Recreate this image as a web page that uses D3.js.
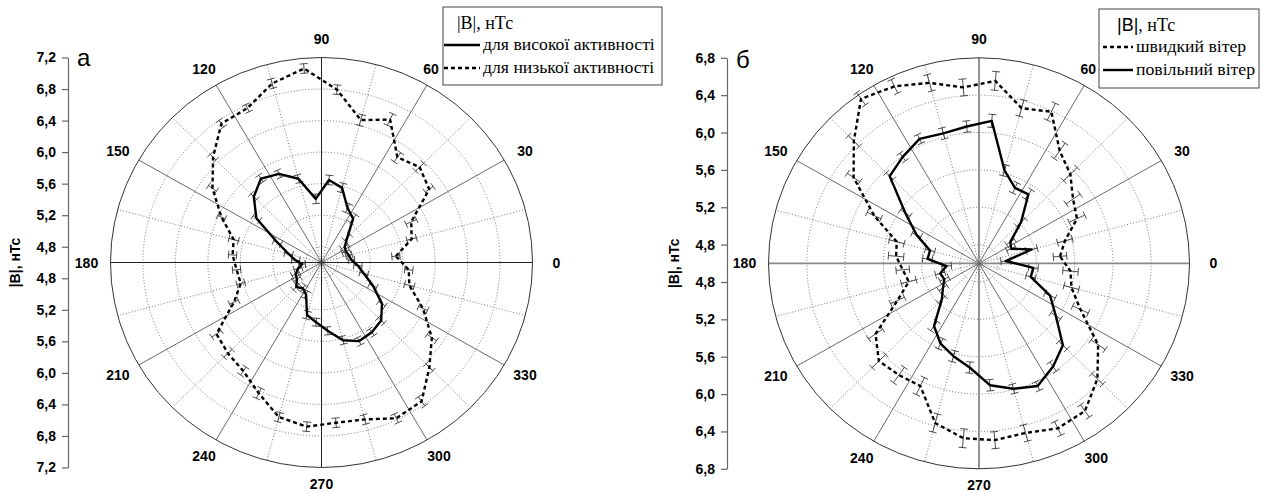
<!DOCTYPE html>
<html><head><meta charset="utf-8">
<script src="https://cdn.jsdelivr.net/npm/d3@7"></script>
<style>body{margin:0;background:#fff}svg{display:block}.serif{font-family:"Liberation Serif","Times New Roman",serif}.sans{font-family:"Liberation Sans",Arial,sans-serif}</style>
</head><body>
<svg id="c" width="1263" height="493"></svg>
<script>
// angles of data points (degrees)
const angles = [5,15,25,35,45,55,65,75,85,95,105,115,125,135,145,155,165,175,185,195,205,215,225,235,245,255,265,275,285,295,305,315,325,335,345,355];
// panel а: high / low activity
const highAct = [4.97,4.95,4.93,4.95,5.05,5.28,5.36,5.58,5.65,5.41,5.70,5.84,5.90,5.78,5.58,5.20,5.02,4.92,4.84,4.90,4.95,4.97,5.04,5.00,5.05,5.29,5.36,5.47,5.62,5.70,5.68,5.64,5.51,5.30,5.14,5.05];
const highErr = [0.04,0.04,0.05,0.05,0.05,0.06,0.06,0.06,0.06,0.06,0.05,0.05,0.05,0.05,0.05,0.05,0.05,0.05,0.04,0.05,0.05,0.05,0.05,0.05,0.05,0.05,0.05,0.05,0.05,0.05,0.05,0.05,0.05,0.05,0.05,0.05];
const lowAct = [5.52,5.75,5.82,6.22,6.31,6.23,6.60,6.47,6.80,7.07,6.95,6.76,6.75,6.49,6.24,5.96,5.72,5.70,5.65,5.63,5.79,6.18,6.23,6.28,6.43,6.63,6.69,6.64,6.66,6.78,6.75,6.48,6.26,5.98,5.72,5.68];
const lowErr = [0.05,0.06,0.07,0.06,0.07,0.07,0.08,0.07,0.06,0.06,0.06,0.05,0.05,0.05,0.06,0.05,0.06,0.05,0.05,0.05,0.06,0.07,0.07,0.06,0.07,0.06,0.06,0.06,0.06,0.06,0.07,0.06,0.07,0.06,0.06,0.05];
// panel б: fast / slow wind
const fastWind = [5.45,5.53,5.73,5.80,5.95,6.07,6.39,6.32,6.56,6.49,6.60,6.69,6.75,6.45,6.20,5.81,5.49,5.47,5.40,5.36,5.54,5.92,6.08,6.06,6.05,6.37,6.48,6.50,6.48,6.55,6.53,6.35,6.12,5.77,5.60,5.56];
const fastErr = [0.07,0.08,0.09,0.09,0.10,0.10,0.10,0.09,0.10,0.09,0.09,0.08,0.08,0.08,0.08,0.08,0.08,0.08,0.07,0.08,0.08,0.09,0.10,0.10,0.10,0.10,0.10,0.09,0.09,0.08,0.08,0.08,0.09,0.09,0.08,0.08];
const slowWind = [4.88,5.17,4.97,5.00,5.22,5.50,5.49,5.63,6.13,6.07,6.04,6.07,5.99,5.92,5.54,5.32,5.13,5.14,4.94,5.02,5.00,5.06,5.15,5.42,5.55,5.63,5.72,5.91,5.99,6.05,5.95,5.84,5.58,5.42,5.16,5.17];
const slowErr = [0.05,0.06,0.05,0.05,0.06,0.06,0.06,0.06,0.07,0.06,0.06,0.05,0.05,0.05,0.06,0.05,0.05,0.05,0.05,0.05,0.05,0.05,0.05,0.06,0.06,0.06,0.06,0.06,0.05,0.05,0.06,0.06,0.06,0.06,0.05,0.05];
// tick labels
const angleLabels = [0,30,60,90,120,150,180,210,240,270,300,330];
const ticksA = [4.8,5.2,5.6,6.0,6.4,6.8,7.2];
const ticksB = [4.8,5.2,5.6,6.0,6.4,6.8];
const minorA = [4.8,5.0,5.2,5.4,5.6,5.8,6.0,6.2,6.4,6.6,6.8,7.0,7.2];
const minorB = [4.8,5.0,5.2,5.4,5.6,5.8,6.0,6.2,6.4,6.6,6.8];

const svg = d3.select("#c");
const fmt = v => d3.format(".1f")(v).replace(".", ",");

function panel(o) {
  const g = svg.append("g");
  const rad = d3.scaleLinear().domain(o.domain).range([0, o.ry]);
  const kx = o.rx / o.ry;
  const px = (v, a) => o.cx + kx * rad(v) * Math.cos(a * Math.PI / 180);
  const py = (v, a) => o.cy - rad(v) * Math.sin(a * Math.PI / 180);
  const vmax = o.domain[1];

  // dotted grid circles
  g.selectAll("ellipse.grid").data(o.ticks.filter(t => t < vmax)).join("ellipse")
    .attr("cx", o.cx).attr("cy", o.cy)
    .attr("rx", d => kx * rad(d)).attr("ry", d => rad(d))
    .attr("fill", "none").attr("stroke", "#555").attr("stroke-width", 0.8)
    .attr("stroke-dasharray", "1,2");
  // dotted radial lines every 15 deg offset
  const dotted = d3.range(15, 360, 30);
  g.selectAll("line.dr").data(dotted).join("line")
    .attr("x1", o.cx).attr("y1", o.cy)
    .attr("x2", d => px(vmax, d)).attr("y2", d => py(vmax, d))
    .attr("stroke", "#555").attr("stroke-width", 0.8).attr("stroke-dasharray", "1,2");
  // solid radial lines every 30
  g.selectAll("line.sr").data(angleLabels).join("line")
    .attr("x1", o.cx).attr("y1", o.cy)
    .attr("x2", d => px(vmax, d)).attr("y2", d => py(vmax, d))
    .attr("stroke", d => d % 90 === 0 ? o.axisColor : "#444")
    .attr("stroke-width", d => d % 90 === 0 ? o.axisWidth : 0.8);
  // outer circle
  g.append("ellipse").attr("cx", o.cx).attr("cy", o.cy)
    .attr("rx", kx * rad(vmax)).attr("ry", rad(vmax))
    .attr("fill", "none").attr("stroke", "#333").attr("stroke-width", 1);

  // angle labels
  g.selectAll("text.al").data(angleLabels).join("text").attr("class", "sans")
    .attr("x", d => o.cx + (kx * rad(vmax) + 24) * Math.cos(d * Math.PI / 180) + (d === 60 ? -8 : 0))
    .attr("y", d => o.cy - (rad(vmax) + (d === 270 ? 16 : 19)) * Math.sin(d * Math.PI / 180) + 5)
    .attr("text-anchor", "middle")
    .attr("font-weight", "bold").attr("font-size", 14).text(d => d);

  // series
  const line = d3.line()
    .x((d, i) => px(d, angles[i])).y((d, i) => py(d, angles[i]))
    .curve(d3.curveLinearClosed);
  o.series.forEach(s => {
    const eg = g.append("g");
    s.values.forEach((v, i) => {
      const a = angles[i], e = s.err[i];
      const rr = a * Math.PI / 180;
      const tx = -Math.sin(rr) * 4, ty = -Math.cos(rr) * 4;
      eg.append("line").attr("x1", px(v - e, a)).attr("y1", py(v - e, a))
        .attr("x2", px(v + e, a)).attr("y2", py(v + e, a));
      [v - e, v + e].forEach(w => {
        eg.append("line").attr("x1", px(w, a) - tx).attr("y1", py(w, a) - ty)
          .attr("x2", px(w, a) + tx).attr("y2", py(w, a) + ty);
      });
    });
    eg.attr("stroke", "#222").attr("stroke-width", 0.8);
    g.append("path").attr("d", line(s.values)).attr("fill", "none")
      .attr("stroke", "#000").attr("stroke-width", 2.4)
      .attr("stroke-dasharray", s.dashed ? "4,3" : null)
      .attr("stroke-linejoin", "round");
  });

  // left radial axis
  const yTop = d3.scaleLinear().domain(o.domain).range([o.cy, o.cy - rad(vmax)]);
  const yBot = d3.scaleLinear().domain(o.domain).range([o.cy, o.cy + rad(vmax)]);
  [yTop, yBot].forEach(sc => {
    const ax = g.append("g").attr("transform", `translate(${o.axisX},0)`);
    ax.call(d3.axisLeft(sc).tickValues(o.minor).tickSize(3).tickFormat("").tickSizeOuter(0));
    ax.call(d3.axisLeft(sc).tickValues(o.ticks).tickSize(6).tickPadding(6).tickFormat(fmt).tickSizeOuter(0));
    ax.attr("font-family", null);
    ax.selectAll("path,line").attr("stroke", "#666").attr("stroke-width", 1.2);
    ax.selectAll("text").attr("class", "sans").attr("font-weight", "bold")
      .attr("font-size", 14).attr("fill", "#000");
  });
  g.append("text").attr("class", "sans")
    .attr("transform", `translate(${o.axisX - 48},${o.cy}) rotate(-90)`)
    .attr("text-anchor", "middle").attr("font-weight", "bold")
    .attr("font-size", 14).text("|B|, нТс");
  g.append("text").attr("class", "sans").attr("x", o.letterX).attr("y", o.letterY)
    .attr("font-size", 24).text(o.letter);

  // legend
  const L = o.legend;
  const lg = g.append("g");
  lg.append("rect").attr("x", L.x).attr("y", L.y).attr("width", L.w).attr("height", L.h)
    .attr("fill", "#fff").attr("stroke", "#444").attr("stroke-width", 1);
  const tt = lg.append("text").attr("class", "serif").attr("x", L.titleX).attr("y", L.y + 22)
    .attr("font-size", 18);
  tt.append("tspan").attr("class", L.barSans ? "sans" : "serif").text("|B|");
  tt.append("tspan").attr("class", "serif").text(", нТс");
  L.rows.forEach((r, i) => {
    const yy = L.y + 38 + i * 23;
    lg.append("line").attr("x1", L.lx1).attr("x2", L.lx2).attr("y1", yy).attr("y2", yy)
      .attr("stroke", "#000").attr("stroke-width", 2.4)
      .attr("stroke-dasharray", r.dashed ? "4,3" : null);
    lg.append("text").attr("class", "serif").attr("x", L.lx2 + 3).attr("y", yy + 5)
      .attr("font-size", 17.7).text(r.label);
  });
}

panel({
  cx: 321.5, cy: 262.5, rx: 211, ry: 205, domain: [4.6, 7.2],
  ticks: ticksA, minor: minorA, axisX: 68, axisColor: "#222", axisWidth: 1,
  letter: "а", letterX: 77, letterY: 66,
  series: [
    {values: lowAct, err: lowErr, dashed: true},
    {values: highAct, err: highErr, dashed: false}
  ],
  legend: {x: 443, y: 7, w: 219, h: 78, titleX: 457, lx1: 444, lx2: 480, barSans: false,
    rows: [{label: "для високої активності", dashed: false}, {label: "для низької активності", dashed: true}]}
});
panel({
  cx: 979, cy: 263.3, rx: 210.5, ry: 205.5, domain: [4.6, 6.8],
  ticks: ticksB, minor: minorB, axisX: 727, axisColor: "#888", axisWidth: 1.8,
  letter: "б", letterX: 736, letterY: 68,
  series: [
    {values: fastWind, err: fastErr, dashed: true},
    {values: slowWind, err: slowErr, dashed: false}
  ],
  legend: {x: 1099, y: 9, w: 160, h: 79, titleX: 1117, lx1: 1103, lx2: 1133, barSans: true,
    rows: [{label: "швидкий вітер", dashed: true}, {label: "повільний вітер", dashed: false}]}
});
</script>
</body></html>
